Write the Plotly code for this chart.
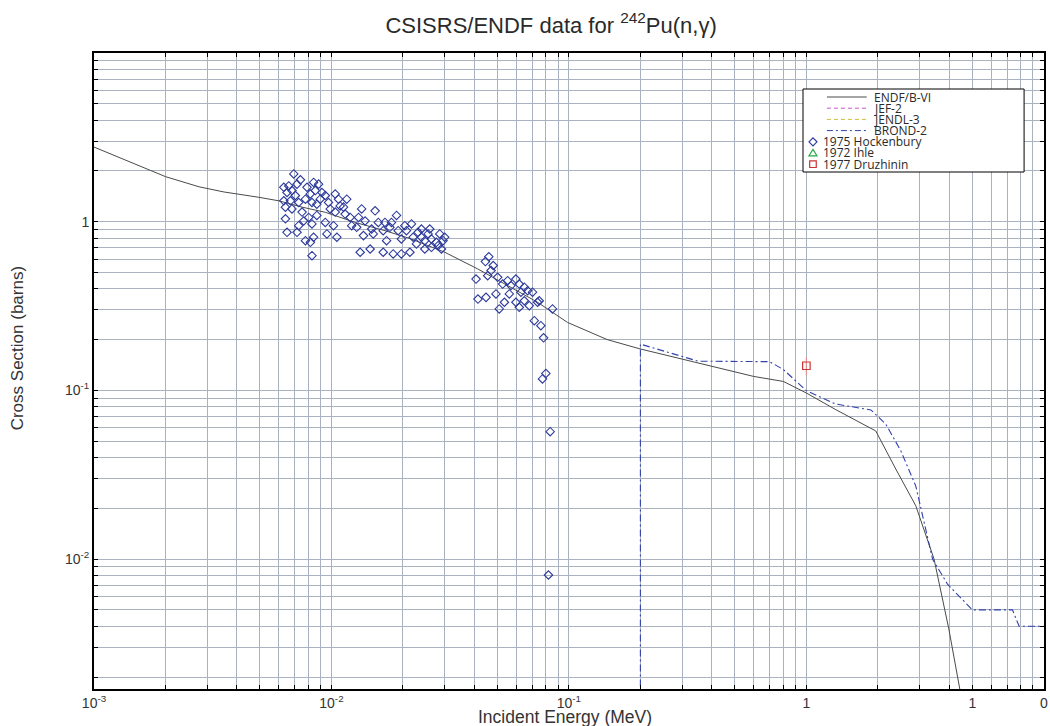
import plotly.graph_objects as go

# ---------------- data ----------------
endf_E = [0.001, 0.00141, 0.002, 0.00277, 0.00353, 0.00495, 0.0060, 0.00752, 0.00942, 0.0126,
          0.0168, 0.0217, 0.030, 0.0413, 0.0738, 0.0986, 0.145, 0.2, 0.3, 0.4,
          0.6, 0.8, 1.0, 1.33, 1.96, 2.38, 2.89, 3.45, 3.98, 4.5]
endf_s = [2.77, 2.26, 1.85, 1.61, 1.50, 1.395, 1.33, 1.22, 1.137, 0.99,
          0.885, 0.79, 0.659, 0.525, 0.333, 0.253, 0.20, 0.176, 0.153, 0.14,
          0.121, 0.113, 0.0965, 0.0769, 0.0575, 0.0342, 0.0207, 0.010, 0.00386, 0.0015]

brond_E = [0.2, 0.2, 0.35, 0.7, 0.8, 1.0, 1.33, 1.87, 2.16, 2.5, 2.89, 3.4, 3.93, 5.0, 7.38, 7.87, 10.0]
brond_s = [1e-4, 0.188, 0.149, 0.148, 0.133, 0.0996, 0.083, 0.0766, 0.0632, 0.0438, 0.0271,
           0.010, 0.0071, 0.005, 0.005, 0.004, 0.004]

hock_E = [0.00694, 0.00740, 0.00630, 0.00661, 0.00682, 0.00716, 0.00650, 0.00705, 0.00630, 0.00672,
          0.00640, 0.00682, 0.00640, 0.00728, 0.00777, 0.00789, 0.00841, 0.00883, 0.00855, 0.00815,
          0.00912, 0.00942, 0.00897, 0.00868, 0.00828, 0.00752, 0.00802, 0.00868, 0.00764, 0.00728,
          0.00650, 0.00716, 0.00777, 0.00815, 0.00841, 0.00828, 0.00828, 0.00942, 0.00957, 0.0102,
          0.01054, 0.00972, 0.01037, 0.00988, 0.01088, 0.01071, 0.0116, 0.01037, 0.01142, 0.01199,
          0.01124, 0.01217, 0.01277, 0.0134, 0.0130, 0.01386, 0.01364, 0.01455, 0.01321, 0.01527,
          0.01476, 0.01575, 0.0150, 0.01652, 0.01707, 0.01652, 0.0168, 0.0179, 0.01762, 0.0188,
          0.0182, 0.0191, 0.0197, 0.0197, 0.02037, 0.0207, 0.02173, 0.0214, 0.02208, 0.02317,
          0.0228, 0.02393, 0.02472, 0.02393, 0.02553, 0.02636, 0.02594, 0.02767, 0.02858, 0.02812,
          0.02951, 0.02999, 0.02904, 0.02636, 0.02472,
          0.047, 0.04064, 0.0455, 0.0501, 0.0526, 0.0552, 0.0598, 0.0618, 0.057, 0.0649,
          0.067, 0.0703, 0.0628, 0.0561, 0.0493, 0.04477, 0.0414, 0.0535, 0.0598, 0.0649,
          0.0681, 0.0738, 0.075, 0.0618, 0.0509, 0.0853, 0.0715, 0.0762, 0.0782, 0.080,
          0.0774, 0.0834, 0.082, 0.0445, 0.046, 0.048]
hock_s = [1.92, 1.77, 1.60, 1.63, 1.53, 1.67, 1.49, 1.43, 1.33, 1.33,
          1.22, 1.19, 1.04, 1.30, 1.36, 1.60, 1.71, 1.67, 1.53, 1.46,
          1.49, 1.43, 1.36, 1.27, 1.30, 1.14, 1.06, 1.09, 1.01, 0.947,
          0.865, 0.865, 0.772, 0.755, 0.809, 0.629, 0.97, 0.99, 0.846, 0.947,
          0.809, 1.30, 1.46, 1.19, 1.24, 1.36, 1.36, 1.14, 1.11, 1.06,
          1.22, 0.947, 0.926, 1.19, 1.06, 1.01, 0.827, 0.689, 0.659, 1.16,
          0.905, 0.99, 0.846, 0.659, 0.772, 0.885, 0.99, 0.99, 0.926, 1.09,
          0.644, 0.885, 0.79, 0.644, 0.947, 0.885, 0.97, 0.659, 0.809, 0.865,
          0.738, 0.905, 0.772, 0.809, 0.846, 0.79, 0.905, 0.755, 0.846, 0.721,
          0.772, 0.809, 0.689, 0.705, 0.689,
          0.513, 0.457, 0.479, 0.468, 0.427, 0.447, 0.457, 0.427, 0.418, 0.409,
          0.390, 0.382, 0.382, 0.373, 0.373, 0.356, 0.348, 0.333, 0.333, 0.340,
          0.318, 0.333, 0.340, 0.311, 0.304, 0.304, 0.259, 0.242, 0.205, 0.126,
          0.117, 0.0569, 0.00805, 0.58, 0.62, 0.55]

druz_E = [1.0]
druz_s = [0.14]
druz_err = [0.017]

x_label_vals = [0.001, 0.01, 0.1, 1, 5, 10]
x_label_text = ["10<sup>-3</sup>", "10<sup>-2</sup>", "10<sup>-1</sup>", "1", "1", "0"]
y_label_vals = [0.01, 0.1, 1]
y_label_text = ["10<sup>-2</sup>", "10<sup>-1</sup>", "1"]

legend_names = ["ENDF/B-VI", "JEF-2", "JENDL-3", "BROND-2", "1975 Hockenbury", "1972 Ihle", "1977 Druzhinin"]

# ---------------- layout helpers ----------------
W, H = 1050, 726
ML, MR, MT, MB = 94, 2, 53, 37
PW, PH = W - ML - MR, H - MT - MB
Y_LO = -2.770
X_HI = 1.0008


def pxx(x):
    return (x - ML) / PW


def pxy(y):
    return (H - MB - y) / PH


def grid_values(lo_exp, hi_exp, lo, hi):
    vals = []
    for e in range(lo_exp, hi_exp + 1):
        for k in range(1, 10):
            v = round(k * 10 ** e, 10)
            if lo - 1e-12 <= v <= hi + 1e-12:
                vals.append(v)
    return vals


def labels_for(vals, label_vals, label_text):
    out = []
    for v in vals:
        lab = ""
        for lv, lt in zip(label_vals, label_text):
            if abs(v - lv) < 1e-9 * max(1, lv):
                lab = lt
        out.append(lab)
    return out


x_tickvals = grid_values(-3, 1, 0.001, 10)
x_ticktext = labels_for(x_tickvals, x_label_vals, x_label_text)
y_tickvals = grid_values(-3, 1, 10 ** Y_LO, 10)
y_ticktext = labels_for(y_tickvals, y_label_vals, y_label_text)

GRID = "#aab1bf"
ENDF_C = "#4a4a4a"
BROND_C = "#3141ad"
HOCK_C = "#2c3a9c"
DRUZ_C = "#cc3333"
TXT = "#2a2a2a"

fig = go.Figure()

fig.add_trace(go.Scatter(x=endf_E, y=endf_s, mode="lines", name=legend_names[0],
                         line=dict(color=ENDF_C, width=1), showlegend=False))
fig.add_trace(go.Scatter(x=brond_E, y=brond_s, mode="lines", name=legend_names[3],
                         line=dict(color=BROND_C, width=1.1, dash="7px,3px,2px,3px"), showlegend=False))
fig.add_trace(go.Scatter(x=hock_E, y=hock_s, mode="markers", name=legend_names[4],
                         marker=dict(symbol="diamond-open", size=6.5, color=HOCK_C, line=dict(width=1.1)),
                         showlegend=False))
fig.add_trace(go.Scatter(x=druz_E, y=druz_s, mode="markers", name=legend_names[6],
                         error_y=dict(type="data", array=druz_err, color="#e39090", thickness=1.2, width=0),
                         marker=dict(symbol="square-open", size=7.5, color=DRUZ_C, line=dict(width=1.2)),
                         showlegend=False))

axis_common = dict(
    type="log", showgrid=True, gridcolor=GRID, gridwidth=1,
    showline=True, linecolor="black", linewidth=2, mirror="allticks",
    ticks="inside", ticklen=4, tickcolor="black", tickwidth=1,
    zeroline=False, tickfont=dict(family="Liberation Sans, Arial", size=14, color="#333333"),
)

fig.update_xaxes(range=[-3, X_HI], tickmode="array", tickvals=x_tickvals, ticktext=x_ticktext, **axis_common)
fig.update_yaxes(range=[Y_LO, 1], tickmode="array", tickvals=y_tickvals, ticktext=y_ticktext, **axis_common)

annotations = [
    dict(text="Incident Energy (MeV)", xref="paper", yref="paper", x=pxx(567), y=pxy(717),
         xanchor="center", yanchor="middle", showarrow=False, borderpad=0,
         font=dict(family="Liberation Sans, Arial", size=17.5, color="#333333")),
    dict(text="Cross Section (barns)", xref="paper", yref="paper", x=pxx(18), y=pxy(348),
         xanchor="center", yanchor="middle", showarrow=False, textangle=-90,
         font=dict(family="Liberation Sans, Arial", size=17, color="#333333")),
]

shapes = []
# legend box
shapes.append(dict(type="rect", xref="paper", yref="paper", x0=pxx(806), x1=pxx(1028),
                   y0=pxy(172), y1=pxy(89), line=dict(color="black", width=1), fillcolor="white",
                   layer="above"))
entry_y = [97 + 11.2 * i for i in range(7)]
line_styles = [(ENDF_C, "solid"), ("#c455c4", "4px,3px"), ("#c9bf3a", "4px,3px"), (BROND_C, "6px,3px,2px,3px")]
LEG_FONT = dict(family="Open Sans, Liberation Sans", size=12, color=TXT)
for i, (col, dash) in enumerate(line_styles):
    shapes.append(dict(type="line", xref="paper", yref="paper", x0=pxx(830), x1=pxx(870),
                       y0=pxy(entry_y[i]), y1=pxy(entry_y[i]),
                       line=dict(color=col, width=1, dash=dash), layer="above"))
    annotations.append(dict(text=legend_names[i], xref="paper", yref="paper", x=pxx(876),
                            y=pxy(entry_y[i]), xanchor="left", yanchor="middle", showarrow=False,
                            borderpad=0, font=LEG_FONT))
hx, hy = 4.0 / PW, 4.0 / PH
mx = pxx(816)
# diamond
yc = pxy(entry_y[4])
shapes.append(dict(type="path", xref="paper", yref="paper",
                   path=f"M {mx - hx} {yc} L {mx} {yc + hy} L {mx + hx} {yc} L {mx} {yc - hy} Z",
                   line=dict(color=HOCK_C, width=1.2), layer="above"))
# triangle
yc = pxy(entry_y[5])
shapes.append(dict(type="path", xref="paper", yref="paper",
                   path=f"M {mx - hx} {yc - hy * 0.7} L {mx + hx} {yc - hy * 0.7} L {mx} {yc + hy * 0.9} Z",
                   line=dict(color="#22aa44", width=1.2), layer="above"))
# square
yc = pxy(entry_y[6])
sx, sy = 3.3 / PW, 3.3 / PH
shapes.append(dict(type="rect", xref="paper", yref="paper", x0=mx - sx, x1=mx + sx, y0=yc - sy, y1=yc + sy,
                   line=dict(color=DRUZ_C, width=1.2), layer="above"))
for i in range(4, 7):
    annotations.append(dict(text=legend_names[i], xref="paper", yref="paper", x=pxx(825),
                            y=pxy(entry_y[i]), xanchor="left", yanchor="middle", showarrow=False,
                            borderpad=0, font=LEG_FONT))

fig.update_layout(
    width=W, height=H, autosize=False,
    margin=dict(l=ML, r=MR, t=MT, b=MB),
    paper_bgcolor="white", plot_bgcolor="white",
    title=dict(text="CSISRS/ENDF data for <sup>242</sup>Pu(n,γ)", x=pxx(553), xref="paper",
               y=1 - 25 / H, yref="container", xanchor="center", yanchor="middle",
               font=dict(family="Liberation Sans, Arial", size=22, color=TXT)),
    annotations=annotations, shapes=shapes, showlegend=False,
)

fig.write_html("out.html", config={"displayModeBar": False},
               post_script="document.body.style.margin='0px';")
